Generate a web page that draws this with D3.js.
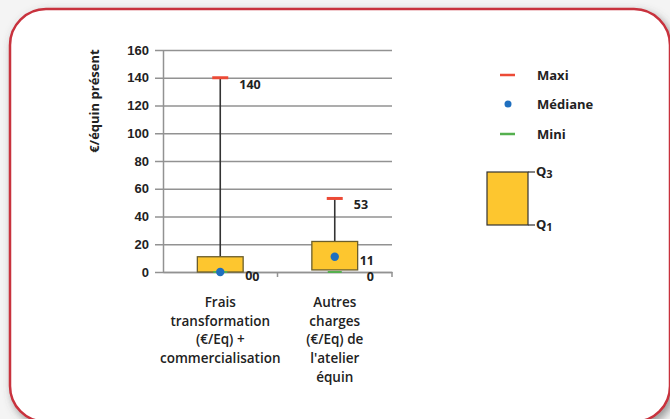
<!DOCTYPE html>
<html>
<head>
<meta charset="utf-8">
<script src="https://cdn.jsdelivr.net/npm/d3@7"></script>
<style>
  body { margin: 0; background: #f2f2f2; }
  svg { display: block; font-family: "Open Sans", sans-serif; }
</style>
</head>
<body>
<div class="container"></div>
<script>
const width = 670;
const height = 419;

// data
const categories = ["frais", "autres"];
const categoryLabels = [
  ["Frais", "transformation", "(€/Eq) +", "commercialisation"],
  ["Autres", "charges", "(€/Eq) de", "l'atelier", "équin"]
];
const maxi = [140, 53];
const q3 = [11, 22];
const mediane = [0, 11];
const q1 = [0, 1.5];
const mini = [0, 0];
const yTicks = [0, 20, 40, 60, 80, 100, 120, 140, 160];
const legendItems = ["Maxi", "Médiane", "Mini"];

const colors = { maxi: "#ec4a36", med: "#1f6fbf", mini: "#55b04f", box: "#fdc62f", boxLine: "#6b5e2c", whisker: "#333" };

const svg = d3.select(".container").append("svg").attr("width", width).attr("height", height);

// frame with shadow
const defs = svg.append("defs");
const f = defs.append("filter").attr("id", "shadow").attr("x", "-10%").attr("y", "-10%").attr("width", "120%").attr("height", "120%");
f.append("feDropShadow").attr("dx", 3).attr("dy", 4).attr("stdDeviation", 4).attr("flood-color", "#555").attr("flood-opacity", 0.6);

svg.append("rect").attr("width", width).attr("height", height).attr("fill", "#f4f4f4");
svg.append("rect")
    .attr("x", 10).attr("y", 9).attr("width", 660).attr("height", 413)
    .attr("rx", 36).attr("ry", 36)
    .attr("fill", "#fff").attr("stroke", "#c8303c").attr("stroke-width", 2.5)
    .attr("filter", "url(#shadow)");

const x = d3.scaleBand().domain(categories).range([163, 392]);
const y = d3.scaleLinear().domain([0, 160]).range([272, 50]);

// gridlines + y axis
const yAxis = svg.append("g")
    .attr("transform", "translate(163,0)")
    .call(d3.axisLeft(y).tickValues(yTicks).tickSize(-229).tickSizeOuter(0).tickPadding(14));
yAxis.select(".domain").attr("stroke", "#929292").attr("stroke-width", 1.5);
yAxis.selectAll(".tick line").attr("stroke", "#929292").attr("stroke-width", 1.6).attr("x1", -8);
yAxis.selectAll(".tick text")
    .attr("font-size", 13).attr("font-weight", 700).attr("fill", "#222");

// x axis
const xAxis = svg.append("g")
    .attr("transform", "translate(0,272)")
    .call(d3.axisBottom(x).tickSize(0).tickFormat(""));
xAxis.select(".domain").attr("stroke", "#929292").attr("stroke-width", 1.6);
xAxis.selectAll(".sep")
    .data(x.domain().map(d => x(d) + x.bandwidth()))
    .enter().append("line")
      .attr("class", "sep")
      .attr("x1", d => d).attr("x2", d => d)
      .attr("y1", 0).attr("y2", 5)
      .attr("stroke", "#929292").attr("stroke-width", 1.5);

// category labels
categories.forEach((c, i) => {
  const t = svg.append("text")
      .attr("text-anchor", "middle")
      .attr("font-size", 13.5).attr("font-weight", 600).attr("fill", "#222")
      .attr("x", x(c) + x.bandwidth() / 2).attr("y", 307);
  categoryLabels[i].forEach((line, j) => {
    t.append("tspan").attr("x", x(c) + x.bandwidth() / 2).attr("dy", j === 0 ? 0 : 18.7).text(line);
  });
});

// y axis title
svg.append("text")
    .attr("transform", "translate(99,101) rotate(-90)")
    .attr("text-anchor", "middle")
    .attr("font-size", 13).attr("font-weight", 700).attr("fill", "#222")
    .text("€/équin présent");

// boxes
const data = categories.map((c, i) => ({ c, max: maxi[i], q3: q3[i], med: mediane[i], q1: q1[i], min: mini[i] }));
const bw = x.bandwidth() * 0.4;
const cx = d => x(d.c) + x.bandwidth() / 2;

const g = svg.append("g");

g.selectAll(".whisker").data(data).enter().append("line")
    .attr("x1", cx).attr("x2", cx)
    .attr("y1", d => y(d.max)).attr("y2", d => y(d.q3))
    .attr("stroke", colors.whisker).attr("stroke-width", 1.6);

g.selectAll(".box").data(data).enter().append("rect")
    .attr("x", d => cx(d) - bw / 2).attr("width", bw)
    .attr("y", d => y(d.q3)).attr("height", d => y(d.q1) - y(d.q3))
    .attr("fill", colors.box).attr("stroke", colors.boxLine).attr("stroke-width", 1.3);

g.selectAll(".maxmark").data(data).enter().append("line")
    .attr("x1", d => cx(d) - 8).attr("x2", d => cx(d) + 8)
    .attr("y1", d => y(d.max)).attr("y2", d => y(d.max))
    .attr("stroke", colors.maxi).attr("stroke-width", 3);

g.selectAll(".minmark").data(data).enter().append("line")
    .attr("x1", d => cx(d) - 7).attr("x2", d => cx(d) + 7)
    .attr("y1", d => y(d.min)).attr("y2", d => y(d.min))
    .attr("stroke", colors.mini).attr("stroke-width", 2);

g.selectAll(".med").data(data).enter().append("circle")
    .attr("cx", cx).attr("cy", d => y(d.med)).attr("r", 4.2)
    .attr("fill", colors.med);

// value labels
const lbl = { "font-size": 12.5, "font-weight": 700, "fill": "#222" };
function addLabels(cls, xf, yf, tf) {
  const s = g.selectAll("." + cls).data(data).enter().append("text")
      .attr("x", xf).attr("y", yf).text(tf);
  Object.entries(lbl).forEach(([k, v]) => s.attr(k, v));
}
addLabels("lmax", d => cx(d) + 19, d => y(d.max) + 11, d => d.max);
addLabels("lmed", d => cx(d) + bw / 2 + 2, d => y(d.med) + 8, d => d.med);
addLabels("lmin", d => cx(d) + bw / 2 + 9, d => y(d.min) + 8.5, d => d.min);

// legend
const leg = svg.append("g");
const legY = [75, 104, 134];
legendItems.forEach((name, i) => {
  if (i === 1) {
    leg.append("circle").attr("cx", 508).attr("cy", legY[i]).attr("r", 3.5).attr("fill", colors.med);
  } else {
    leg.append("line").attr("x1", 500).attr("x2", 515).attr("y1", legY[i]).attr("y2", legY[i])
        .attr("stroke", i === 0 ? colors.maxi : colors.mini).attr("stroke-width", 2.5);
  }
  leg.append("text").attr("x", 537).attr("y", legY[i] + 5)
      .attr("font-size", 13).attr("font-weight", 700).attr("fill", "#222").text(name);
});

leg.append("rect").attr("x", 487).attr("y", 172).attr("width", 41).attr("height", 53)
    .attr("fill", colors.box).attr("stroke", "#333").attr("stroke-width", 1.2);
[[172, "Q", "3"], [225, "Q", "1"]].forEach(([yy, a, b]) => {
  leg.append("line").attr("x1", 528).attr("x2", 535).attr("y1", yy).attr("y2", yy)
      .attr("stroke", "#333").attr("stroke-width", 1.2);
  const t = leg.append("text").attr("x", 536).attr("y", yy + 4)
      .attr("font-size", 13).attr("font-weight", 700).attr("fill", "#222");
  t.append("tspan").text(a);
  t.append("tspan").attr("font-size", 11).attr("dy", 2).text(b);
});
</script>
</body>
</html>
